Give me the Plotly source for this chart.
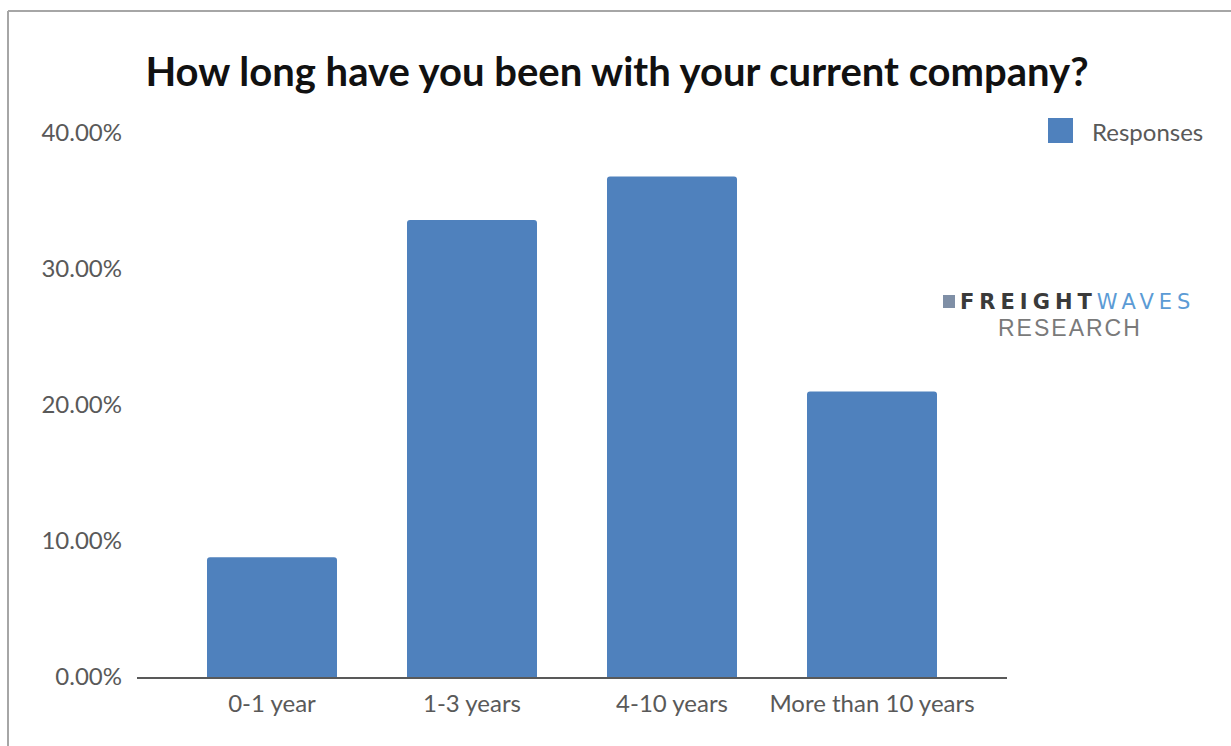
import plotly.graph_objects as go

# Survey results: tenure at current company
categories = ["0-1 year", "1-3 years", "4-10 years", "More than 10 years"]
responses = [0.088, 0.336, 0.368, 0.210]
y_ticks = [0.0, 0.1, 0.2, 0.3, 0.4]

W, H = 1231, 746
L, R, T, B = 137, 224, 133, 69
PW, PH = W - L - R, H - T - B


def px_x(x):
    return (x - L) / PW


def px_y(y):
    return (H - B - y) / PH


BAR = "#4f81bd"
TXT = "#595959"
FONT = "Lato, 'Open Sans', sans-serif"
LOGO_FONT = "'DejaVu Sans', 'Liberation Sans', sans-serif"

fig = go.Figure(
    go.Bar(
        x=categories,
        y=responses,
        name="Responses",
        marker=dict(color=BAR, cornerradius=3, line=dict(width=0)),
        width=0.65,
        showlegend=False,
        hovertemplate="%{x}: %{y:.2%}<extra></extra>",
    )
)

shapes = [
    # outer frame (left and top edges)
    dict(type="line", xref="paper", yref="paper",
         x0=px_x(8), x1=px_x(8), y0=px_y(11), y1=px_y(H + 5),
         line=dict(color="#a6a6a6", width=2)),
    dict(type="line", xref="paper", yref="paper",
         x0=px_x(8), x1=px_x(W + 5), y0=px_y(11), y1=px_y(11),
         line=dict(color="#a6a6a6", width=2)),
    # legend swatch
    dict(type="rect", xref="paper", yref="paper",
         x0=px_x(1048), x1=px_x(1073), y0=px_y(143), y1=px_y(118),
         fillcolor=BAR, line=dict(width=0)),
    # logo mark
    dict(type="rect", xref="paper", yref="paper",
         x0=px_x(943), x1=px_x(955), y0=px_y(308), y1=px_y(295),
         fillcolor="#7f8fa6", line=dict(width=0)),
]

annotations = [
    dict(text="Responses", xref="paper", yref="paper",
         x=px_x(1090), y=px_y(131), xanchor="left", yanchor="middle",
         showarrow=False, font=dict(family=FONT, size=24, color=TXT)),
    dict(text="<span style='letter-spacing:5px'><b>FREIGHT</b>"
              "<span style='color:#5b9bd5'>WAVES</span></span>",
         xref="paper", yref="paper",
         x=px_x(958), y=px_y(302), xanchor="left", yanchor="middle",
         showarrow=False,
         font=dict(family=LOGO_FONT, size=21, color="#3a3a3a")),
    dict(text="<span style='letter-spacing:2px'>RESEARCH</span>",
         xref="paper", yref="paper",
         x=px_x(1070), y=px_y(328), xanchor="center", yanchor="middle",
         showarrow=False,
         font=dict(family="'Liberation Sans', Arial, sans-serif", size=23, color="#7a7a7a")),
]

fig.update_layout(
    width=W,
    height=H,
    margin=dict(l=L, r=R, t=T, b=B, pad=0),
    paper_bgcolor="white",
    plot_bgcolor="white",
    title=dict(
        text="<b>How long have you been with your current company?</b>",
        x=617 / W, xref="container", xanchor="center",
        y=1 - 72 / H, yref="container", yanchor="middle",
        font=dict(family=FONT, size=40, color="#111111"),
    ),
    xaxis=dict(
        range=[-0.675, 3.675],
        showline=True, linecolor=TXT, linewidth=2,
        showgrid=False, ticks="", zeroline=False,
        tickfont=dict(family=FONT, size=24, color=TXT),
        ticklabelstandoff=4,
    ),
    yaxis=dict(
        range=[0, 0.4],
        tickvals=y_ticks,
        tickformat=".2%",
        showgrid=False, zeroline=False, showline=False,
        ticks="", ticklabelstandoff=14,
        tickfont=dict(family=FONT, size=24, color=TXT),
    ),
    shapes=shapes,
    annotations=annotations,
    bargap=0.35,
)

fig.write_html("out.html")
